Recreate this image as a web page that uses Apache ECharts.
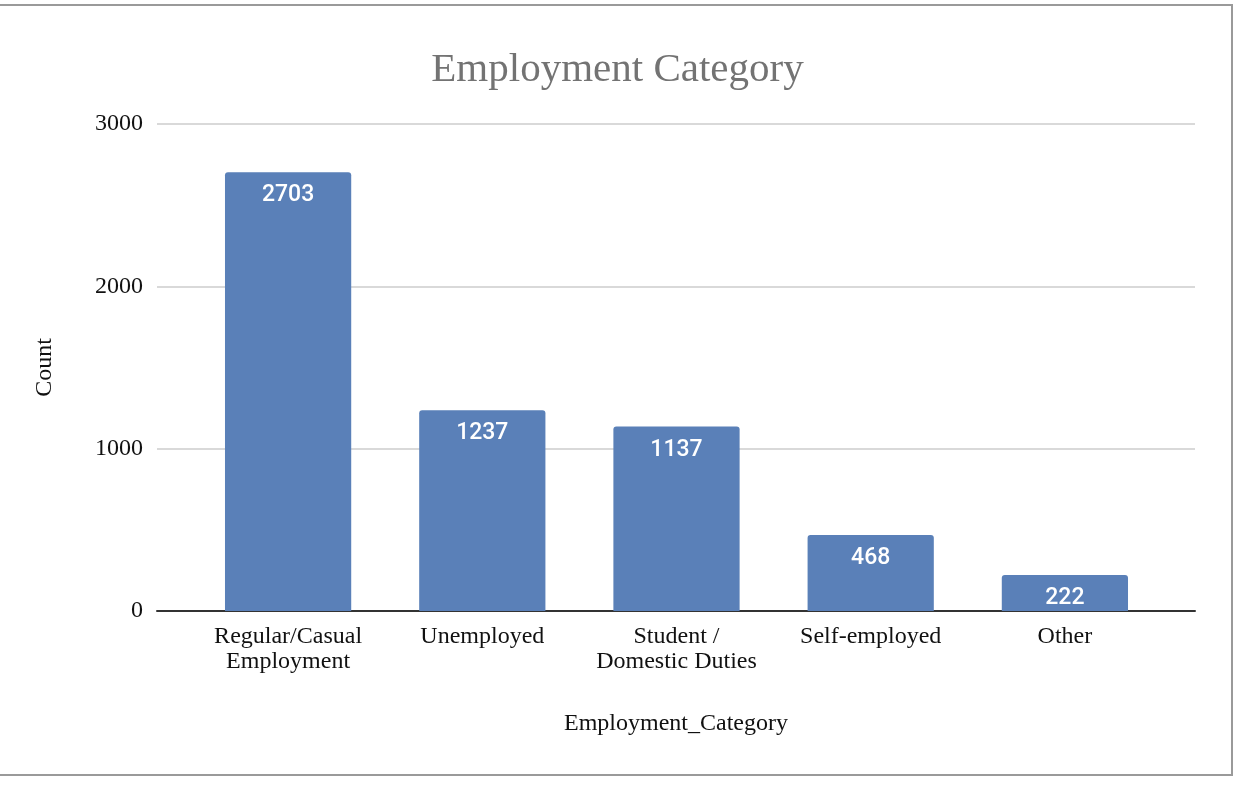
<!DOCTYPE html>
<html>
<head>
<meta charset="utf-8">
<script src="https://cdn.jsdelivr.net/npm/echarts@6/dist/echarts.min.js"></script>
<style>
html,body{margin:0;padding:0;background:#fff;overflow:hidden;}
#frame{position:absolute;left:-4px;top:4px;width:1237px;height:772px;border-top:2px solid #9a9a9a;border-bottom:2px solid #9a9a9a;border-right:2px solid #9a9a9a;box-sizing:border-box;}
#chart{position:absolute;left:0;top:0;width:1235px;height:788px;}
</style>
</head>
<body>
<div id="frame"></div>
<div id="chart"></div>
<script>
const categories = ['Regular/Casual\nEmployment', 'Unemployed', 'Student /\nDomestic Duties', 'Self-employed', 'Other'];
const counts = [2703, 1237, 1137, 468, 222];
const yTicks = [0, 1000, 2000, 3000];

const chart = echarts.init(document.getElementById('chart'), null, {renderer: 'canvas'});
const serif = '"Liberation Serif", "DejaVu Serif", serif';
chart.setOption({
  animation: false,
  title: {
    text: 'Employment Category',
    left: 'center',
    top: 45,
    textStyle: {fontFamily: serif, fontSize: 41, fontWeight: 'normal', color: '#737373'}
  },
  grid: [
    {left: 157, right: 40, top: 124, bottom: 177},
    {left: 191, right: 73, top: 124, bottom: 177}
  ],
  xAxis: [
    {
      gridIndex: 0, type: 'value', min: 0, max: 1,
      axisLine: {show: true, onZero: false, lineStyle: {color: '#333', width: 2}},
      axisTick: {show: false}, axisLabel: {show: false}, splitLine: {show: false},
      name: 'Employment_Category', nameLocation: 'middle', nameGap: 101,
      nameTextStyle: {fontFamily: serif, fontSize: 24, color: '#111'}
    },
    {
      gridIndex: 1, type: 'category', data: categories,
      axisLine: {show: false}, axisTick: {show: false},
      axisLabel: {interval: 0, margin: 13, fontFamily: serif, fontSize: 24, lineHeight: 25, color: '#111'}
    }
  ],
  yAxis: [
    {
      gridIndex: 0, type: 'value', min: yTicks[0], max: yTicks[yTicks.length - 1], interval: 1000,
      axisLine: {show: false}, axisTick: {show: false},
      axisLabel: {margin: 14, fontFamily: serif, fontSize: 24, color: '#111', formatter: v => String(v)},
      splitLine: {lineStyle: {color: '#cccccc', width: 1.5}},
      name: 'Count', nameLocation: 'middle', nameGap: 100, nameRotate: 90,
      nameTextStyle: {fontFamily: serif, fontSize: 24, color: '#111'}
    },
    {
      gridIndex: 1, type: 'value', min: 0, max: 3000, interval: 1000, show: false
    }
  ],
  series: [{
    type: 'bar',
    xAxisIndex: 1, yAxisIndex: 1,
    data: counts,
    barWidth: '65%',
    itemStyle: {color: '#5a80b8', borderRadius: [3, 3, 0, 0]},
    label: {
      show: true, position: 'insideTop', distance: 12,
      fontFamily: 'Roboto, "Noto Sans", sans-serif', fontSize: 23, fontWeight: 500, color: '#ffffff'
    }
  }]
});
</script>
</body>
</html>
